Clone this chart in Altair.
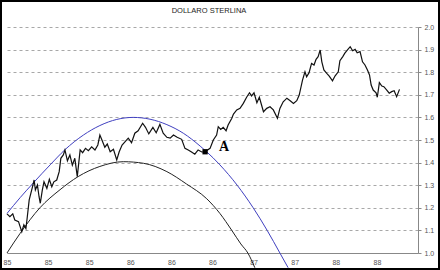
import altair as alt
import pandas as pd

title_text = "DOLLARO STERLINA"
x_labels = ["85", "85", "85", "86", "86", "86", "87", "87", "88", "88"]
y_ticks = [1.0, 1.1, 1.2, 1.3, 1.4, 1.5, 1.6, 1.7, 1.8, 1.9, 2.0]

price_t = [0.0,0.07,0.14,0.19,0.28,0.36,0.41,0.46,0.49,0.54,0.58,0.62,0.66,0.69,0.74,0.78,0.81,0.86,0.90,0.97,
           1.03,1.09,1.14,1.21,1.27,1.31,1.37,1.41,1.47,1.53,1.59,1.65,1.71,1.78,1.84,1.91,1.98,2.06,2.14,2.21,
           2.26,2.31,2.38,2.44,2.51,2.59,2.67,2.73,2.80,2.87,2.95,3.03,3.11,3.19,3.30,3.37,3.45,3.55,3.63,3.72,
           3.80,3.89,3.97,4.05,4.14,4.25,4.33,4.41,4.49,4.57,4.65,4.74,4.82,4.94,5.02,5.10,5.14,5.20,5.26,5.33,
           5.38,5.47,5.51,5.59,5.67,5.75,5.83,5.90,5.95,6.01,6.08,6.14,6.24,6.32,6.40,6.48,6.58,6.64,6.72,6.81,
           6.89,6.97,7.05,7.11,7.19,7.25,7.29,7.35,7.41,7.47,7.52,7.57,7.62,7.66,7.71,7.78,7.84,7.92,7.98,8.06,
           8.10,8.17,8.22,8.28,8.35,8.41,8.47,8.52,8.59,8.65,8.71,8.77,8.82,8.86,8.91,8.98,9.01,9.06,9.12,9.17,
           9.24,9.30,9.36,9.42,9.48,9.55]
price_v = [1.173,1.161,1.173,1.146,1.139,1.094,1.125,1.108,1.154,1.235,1.264,1.293,1.323,1.279,1.301,1.249,1.22,1.279,1.315,1.286,
           1.326,1.293,1.315,1.323,1.36,1.419,1.434,1.456,1.408,1.434,1.389,1.419,1.338,1.456,1.444,1.463,1.453,1.470,1.456,1.478,
           1.522,1.50,1.468,1.482,1.448,1.459,1.412,1.448,1.478,1.492,1.508,1.488,1.530,1.541,1.574,1.556,1.527,1.556,1.532,1.569,
           1.530,1.512,1.508,1.522,1.512,1.503,1.463,1.456,1.447,1.437,1.456,1.447,1.448,1.463,1.50,1.522,1.559,1.547,1.556,1.541,
           1.566,1.596,1.615,1.633,1.640,1.662,1.689,1.709,1.695,1.709,1.665,1.689,1.625,1.640,1.647,1.633,1.596,1.640,1.669,1.685,
           1.674,1.662,1.674,1.699,1.765,1.802,1.780,1.798,1.839,1.832,1.857,1.869,1.898,1.846,1.810,1.795,1.783,1.762,1.783,1.802,
           1.851,1.869,1.884,1.898,1.913,1.895,1.901,1.886,1.891,1.846,1.832,1.810,1.788,1.743,1.721,1.709,1.689,1.754,1.739,1.736,
           1.721,1.707,1.714,1.718,1.692,1.724]
assert len(price_t) == len(price_v)

upper_t = [0.0, 0.32, 0.64, 1.05, 1.41, 1.86, 2.26, 2.67, 3.07, 3.48, 3.89, 4.29, 4.70, 5.02, 5.18, 5.60, 5.99, 6.33, 6.64, 6.84]
upper_v = [1.175, 1.245, 1.31, 1.39, 1.457, 1.522, 1.564, 1.591, 1.600, 1.592, 1.568, 1.53, 1.473, 1.42, 1.39, 1.30, 1.20, 1.10, 1.00, 0.935]

lower_t = [0.0, 0.32, 0.80, 1.29, 1.73, 2.26, 2.83, 3.32, 3.89, 4.37, 4.86, 5.18, 5.47, 5.69, 5.86, 6.03]
lower_v = [1.0, 1.087, 1.200, 1.280, 1.338, 1.383, 1.404, 1.397, 1.36, 1.305, 1.24, 1.175, 1.10, 1.04, 1.0, 0.935]

point_a_t = [4.82]
point_a_v = [1.448]
label_a = ["A"]
label_a_t = [5.28]
label_a_v = [1.47]

W, H = 411, 226

label_expr = "[" + ",".join("'%s'" % s for s in x_labels) + "][datum.value]"

def xenc():
    return alt.X("t:Q", scale=alt.Scale(domain=[0, 10], nice=False, zero=False),
                 axis=alt.Axis(values=list(range(len(x_labels))), labelExpr=label_expr, title=None,
                               grid=False, ticks=False, domainColor="#888888", labelFontSize=7,
                               labelColor="#555555", labelPadding=5, labelFlush=False,
                               labelOverlap=False, labelFont="Liberation Sans"))

def yenc():
    return alt.Y("v:Q", scale=alt.Scale(domain=[1, 2], nice=False, zero=False),
                 axis=alt.Axis(orient="right", values=y_ticks, format=".1f", title=None,
                               grid=True, gridDash=[3, 3], gridColor="#a8a8a8",
                               domainColor="#888888", tickColor="#888888", tickSize=3,
                               labelFontSize=7, labelColor="#555555", labelPadding=3,
                               labelFont="Liberation Sans", labelFlush=False))

price_df = pd.DataFrame({"t": price_t, "v": price_v})
upper_df = pd.DataFrame({"t": upper_t, "v": upper_v})
lower_df = pd.DataFrame({"t": lower_t, "v": lower_v})
pa_df = pd.DataFrame({"t": point_a_t, "v": point_a_v})
la_df = pd.DataFrame({"t": label_a_t, "v": label_a_v, "s": label_a})
title_df = pd.DataFrame({"s": [title_text]})

price = alt.Chart(price_df).mark_line(color="#111111", strokeWidth=1.2).encode(x=xenc(), y=yenc())
upper = alt.Chart(upper_df).mark_line(color="#4040c0", strokeWidth=1, interpolate="monotone").encode(x=xenc(), y=yenc())
lower = alt.Chart(lower_df).mark_line(color="#222222", strokeWidth=1, interpolate="monotone").encode(x=xenc(), y=yenc())
pa = alt.Chart(pa_df).mark_square(color="black", size=28, opacity=1).encode(x=xenc(), y=yenc())
la = alt.Chart(la_df).mark_text(font="Liberation Serif", fontWeight="bold", fontSize=14,
                                 color="black", align="center", baseline="middle").encode(x=xenc(), y=yenc(), text="s:N")
title = alt.Chart(title_df).mark_text(font="Liberation Sans", fontSize=7.5, color="#222222",
                                      align="center", baseline="middle").encode(
    x=alt.value(202), y=alt.value(-16), text="s:N")
frame = alt.Chart(title_df).mark_rect(fillOpacity=0, stroke="black", strokeWidth=2).encode(
    x=alt.value(-6), x2=alt.value(432), y=alt.value(-26), y2=alt.value(242))

chart = alt.layer(upper, lower, price, pa, la, title, frame).properties(
    width=W, height=H,
    autosize=alt.AutoSizeParams(type="none"),
    padding={"left": 7, "top": 27, "right": 22, "bottom": 17},
    background="white",
).configure_view(strokeWidth=0)

chart.save("out.html", embed_options={"renderer": "svg", "actions": False})
